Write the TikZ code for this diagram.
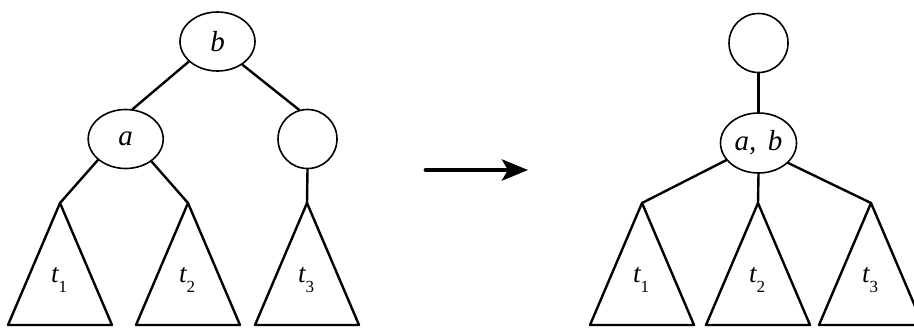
\documentclass[tikz,border=0pt]{standalone}
\usepackage{fontspec}
\setmainfont{Liberation Serif}
\usetikzlibrary{arrows.meta,shapes.geometric}

\newcommand{\tlab}[1]{{\itshape t}\raisebox{-5pt}{\fontsize{8.5}{10}\selectfont #1}}

\begin{document}
\begin{tikzpicture}[line cap=round, line join=round, x=0.5pt, y=-0.5pt,
	knot/.style={draw, ellipse, line width=0.8pt, inner sep=0pt, minimum width=37.5pt, minimum height=29.5pt, font=\fontsize{14.5}{16}\selectfont\itshape},
	ring/.style={draw, circle, line width=0.8pt, inner sep=0pt, minimum size=29.5pt},
	branch/.style={line width=1.2pt},
	subtree/.style={line width=1.2pt},
	sublabel/.style={inner sep=0pt, font=\fontsize{13.5}{15}\selectfont},
	bigarrow/.style={line width=2.4pt, -{Stealth[length=13pt, width=10.5pt, inset=3pt]}}]
	
	\useasboundingbox (0,0) rectangle (914,327);
	
	% Arbol de la izquierda
	\node[knot] (b) at (217.5,41.5) {b};
	\node[knot] (a) at (125.7,139) {a};
	\node[ring] (c) at (307.5,139) {};
	
	% Arbol de la derecha
	\node[ring] (p) at (758.5,43) {};
	\node[knot, minimum width=38pt, minimum height=30pt] (ab) at (758.5,143) {a,\hspace{0.4em}b};
	
	% Subarboles (triangulos)
	\foreach \nm/\x/\i in {lt1/60/1, lt2/188/2, lt3/307/3, rt1/642/1, rt2/758/2, rt3/871/3}
	{
		\coordinate (\nm) at (\x,203);
		\draw[subtree] (\nm) -- ++(-52,122) -- ++(104,0) -- cycle;
		\node[sublabel] (\nm lab) at (\x-1,280) {\tlab{\i}};
	}
	
	% Aristas
	\draw[branch] (b.215) -- (a.77);
	\draw[branch] (b.317) -- (c.106);
	\draw[branch] (a.217) -- (lt1);
	\draw[branch] (a.319) -- (lt2);
	\draw[branch] (c.south) -- (lt3);
	
	\draw[branch] (p.south) -- (ab.north);
	\draw[branch] (ab.208) -- (rt1);
	\draw[branch] (ab.south) -- (rt2);
	\draw[branch] (ab.326) -- (rt3);
	
	% Flecha
	\coordinate (arrS) at (426,170);
	\coordinate (arrE) at (528,170);
	\draw[bigarrow] (arrS) -- (arrE);
	
\end{tikzpicture}
\end{document}
